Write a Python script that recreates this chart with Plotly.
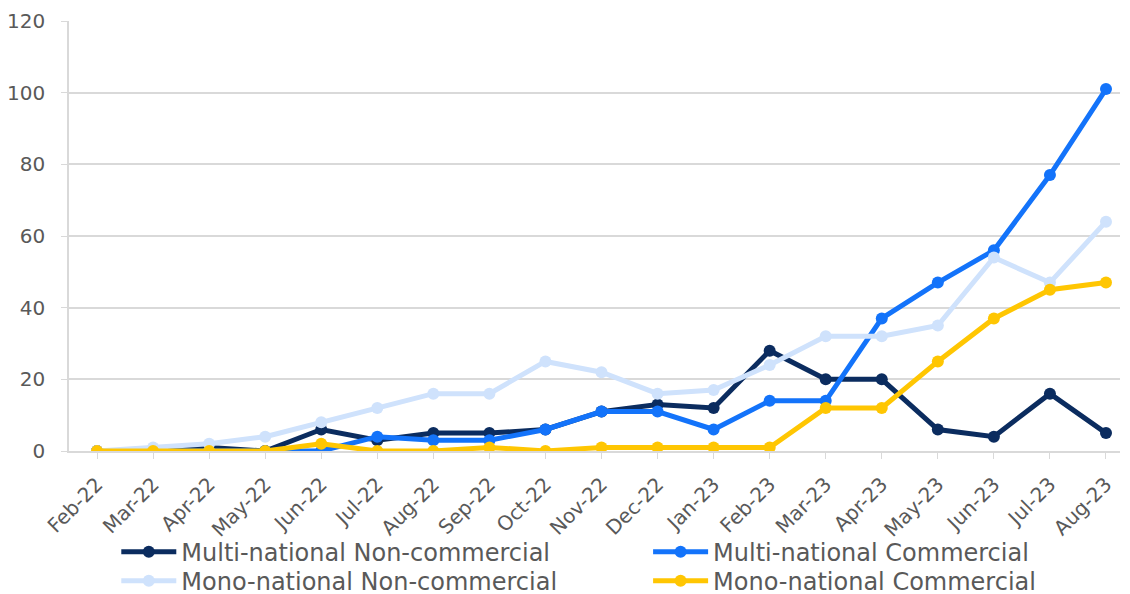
import plotly.graph_objects as go

months = ["Feb-22", "Mar-22", "Apr-22", "May-22", "Jun-22", "Jul-22", "Aug-22", "Sep-22",
          "Oct-22", "Nov-22", "Dec-22", "Jan-23", "Feb-23", "Mar-23", "Apr-23", "May-23",
          "Jun-23", "Jul-23", "Aug-23"]

multi_noncommercial = [0, 0, 1, 0, 6, 3, 5, 5, 6, 11, 13, 12, 28, 20, 20, 6, 4, 16, 5]
multi_commercial = [0, 0, 0, 0, 0, 4, 3, 3, 6, 11, 11, 6, 14, 14, 37, 47, 56, 77, 101]
mono_noncommercial = [0, 1, 2, 4, 8, 12, 16, 16, 25, 22, 16, 17, 24, 32, 32, 35, 54, 47, 64]
mono_commercial = [0, 0, 0, 0, 2, 0, 0, 1, 0, 1, 1, 1, 1, 12, 12, 25, 37, 45, 47]

series = [
    ("Multi-national Non-commercial", multi_noncommercial, "#0B2C5F", "legend"),
    ("Multi-national Commercial", multi_commercial, "#1373FA", "legend2"),
    ("Mono-national Non-commercial", mono_noncommercial, "#CFE2FC", "legend3"),
    ("Mono-national Commercial", mono_commercial, "#FFC602", "legend4"),
]

fig = go.Figure()
for name, vals, color, leg in series:
    fig.add_trace(go.Scatter(
        x=list(range(len(months))), y=vals, name=name, mode="lines+markers",
        line=dict(color=color, width=5),
        marker=dict(color=color, size=12),
        legend=leg,
    ))

font_fam = "DejaVu Sans, Verdana, sans-serif"
legend_common = dict(
    orientation="h", xanchor="left", yanchor="top",
    font=dict(size=24, color="#595959"),
    itemwidth=55, tracegroupgap=0, bgcolor="rgba(0,0,0,0)",
)
row1, row2 = -0.183, -0.2505
col1, col2 = 0.045, 0.551
fig.update_layout(
    width=1130, height=594,
    margin=dict(l=61, r=18, t=13, b=151, autoexpand=False),
    plot_bgcolor="white", paper_bgcolor="white",
    font=dict(family=font_fam, color="#595959", size=20),
    xaxis=dict(
        tickmode="array", tickvals=list(range(len(months))), ticktext=months,
        range=[-0.5, 18.25], tickangle=-45,
        showgrid=False, showline=True, linecolor="#D9D9D9", linewidth=1.5,
        ticks="outside", ticklen=6, tickcolor="#D9D9D9", zeroline=False,
        tickfont=dict(size=20, color="#595959"), ticklabelstandoff=6,
    ),
    yaxis=dict(
        range=[0, 120], dtick=20, showgrid=True, gridcolor="#D9D9D9", gridwidth=1.5,
        showline=True, linecolor="#D9D9D9", linewidth=1.5,
        ticks="outside", ticklen=6, tickcolor="#D9D9D9", zeroline=False,
        tickfont=dict(size=20, color="#595959"), ticklabelstandoff=12,
    ),
    legend=dict(x=col1, y=row1, **legend_common),
    legend2=dict(x=col2, y=row1, **legend_common),
    legend3=dict(x=col1, y=row2, **legend_common),
    legend4=dict(x=col2, y=row2, **legend_common),
    showlegend=True,
)

fig.write_html("out.html")
